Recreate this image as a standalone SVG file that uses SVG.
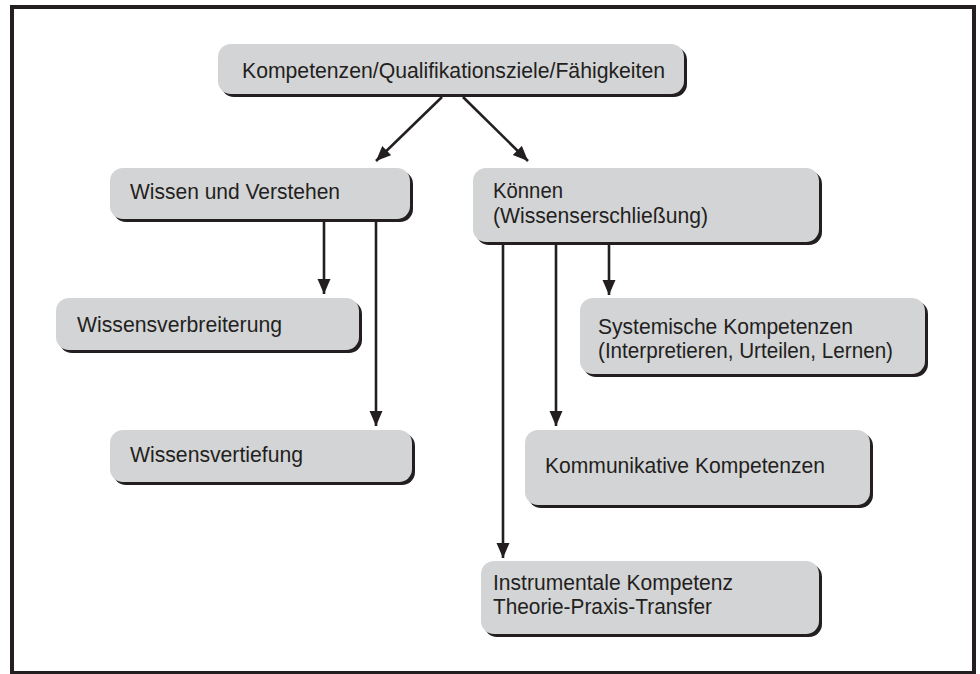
<svg xmlns="http://www.w3.org/2000/svg" width="980" height="674" viewBox="0 0 980 674">
<defs>
<style>
.sh{fill:#231f20}
.bx{fill:#d3d4d6}
.t{font-family:"Liberation Sans",Arial,sans-serif;font-size:22px;fill:#231f20}
.c{stroke:#231f20;stroke-width:2.6;fill:none}
</style>
<marker id="ah" markerUnits="userSpaceOnUse" markerWidth="16" markerHeight="14" refX="15" refY="6.5" orient="auto">
<path d="M0,0 L15,6.5 L0,13 Z" fill="#231f20"/>
</marker>
</defs>
<rect x="0" y="0" width="980" height="674" fill="#ffffff"/>
<rect id="frame" x="12" y="7" width="962" height="666" fill="none" stroke="#231f20" stroke-width="4"/>
<g id="connectors">
<line class="c" x1="442" y1="97" x2="376" y2="161" marker-end="url(#ah)"/>
<line class="c" x1="463" y1="97" x2="528" y2="161" marker-end="url(#ah)"/>
<line class="c" x1="324" y1="222" x2="324" y2="294" marker-end="url(#ah)"/>
<line class="c" x1="376" y1="222" x2="376" y2="426" marker-end="url(#ah)"/>
<line class="c" x1="609" y1="245" x2="609" y2="295" marker-end="url(#ah)"/>
<line class="c" x1="556" y1="245" x2="556" y2="426" marker-end="url(#ah)"/>
<line class="c" x1="503" y1="245" x2="503" y2="558" marker-end="url(#ah)"/>
</g>
<g id="n-top">
<rect class="sh" x="221" y="47" width="466" height="50" rx="13"/>
<rect class="bx" x="218" y="44" width="466" height="50" rx="13"/>
<text class="t" x="242" y="78" textLength="423" lengthAdjust="spacingAndGlyphs">Kompetenzen/Qualifikationsziele/Fähigkeiten</text>
</g>
<g id="n-wissen">
<rect class="sh" x="113" y="171" width="300" height="51" rx="13"/>
<rect class="bx" x="110" y="168" width="300" height="51" rx="13"/>
<text class="t" x="130" y="199" textLength="210" lengthAdjust="spacingAndGlyphs">Wissen und Verstehen</text>
</g>
<g id="n-koennen">
<rect class="sh" x="476" y="171" width="346" height="74" rx="13"/>
<rect class="bx" x="473" y="168" width="346" height="74" rx="13"/>
<text class="t" x="493" y="198" textLength="70" lengthAdjust="spacingAndGlyphs">Können</text>
<text class="t" x="493" y="223" textLength="215" lengthAdjust="spacingAndGlyphs">(Wissenserschließung)</text>
</g>
<g id="n-verbreiterung">
<rect class="sh" x="59" y="301" width="303" height="52" rx="13"/>
<rect class="bx" x="56" y="298" width="303" height="52" rx="13"/>
<text class="t" x="77" y="332" textLength="205" lengthAdjust="spacingAndGlyphs">Wissensverbreiterung</text>
</g>
<g id="n-vertiefung">
<rect class="sh" x="113" y="433" width="302" height="52" rx="13"/>
<rect class="bx" x="110" y="430" width="302" height="52" rx="13"/>
<text class="t" x="130" y="462" textLength="173" lengthAdjust="spacingAndGlyphs">Wissensvertiefung</text>
</g>
<g id="n-systemisch">
<rect class="sh" x="583" y="301" width="345" height="76" rx="13"/>
<rect class="bx" x="580" y="298" width="345" height="76" rx="13"/>
<text class="t" x="598" y="334" textLength="255" lengthAdjust="spacingAndGlyphs">Systemische Kompetenzen</text>
<text class="t" x="598" y="358" textLength="295" lengthAdjust="spacingAndGlyphs">(Interpretieren, Urteilen, Lernen)</text>
</g>
<g id="n-kommunikativ">
<rect class="sh" x="528" y="433" width="345" height="75" rx="13"/>
<rect class="bx" x="525" y="430" width="345" height="75" rx="13"/>
<text class="t" x="545" y="473" textLength="280" lengthAdjust="spacingAndGlyphs">Kommunikative Kompetenzen</text>
</g>
<g id="n-instrumental">
<rect class="sh" x="484" y="564" width="338" height="73" rx="13"/>
<rect class="bx" x="481" y="561" width="338" height="73" rx="13"/>
<text class="t" x="493" y="590" textLength="240" lengthAdjust="spacingAndGlyphs">Instrumentale Kompetenz</text>
<text class="t" x="493" y="614" textLength="219" lengthAdjust="spacingAndGlyphs">Theorie-Praxis-Transfer</text>
</g>
</svg>
